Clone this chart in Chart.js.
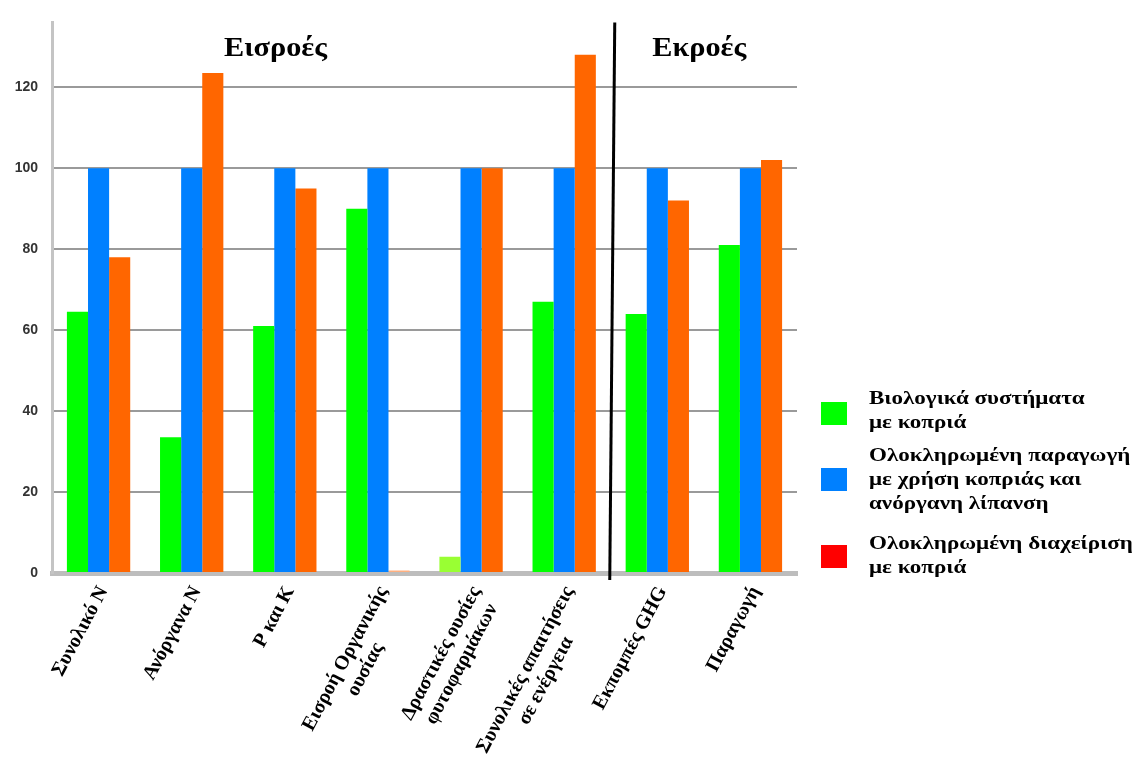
<!DOCTYPE html>
<html>
<head>
<meta charset="utf-8">
<script src="https://cdn.jsdelivr.net/npm/chart.js@4/dist/chart.umd.min.js"></script>
<style>
  html, body { margin: 0; padding: 0; background: #fff; }
  #wrap { position: relative; width: 1139px; height: 758px; }
</style>
</head>
<body>
<div id="wrap"><canvas id="c" width="1139" height="758"></canvas></div>
<script>
// Categories (inputs first, then outputs)
const categories = [
  ['Συνολικό N'],
  ['Ανόργανα N'],
  ['P και K'],
  ['Εισροή Οργανικής', 'ουσίας'],
  ['Δραστικές ουσίες', 'φυτοφαρμάκων'],
  ['Συνολικές απαιτήσεις', 'σε ενέργεια'],
  ['Εκπομπές GHG'],
  ['Παραγωγή']
];

// Series values (index, integrated production = 100)
const biological = [64.5, 33.5, 61, 90, 4, 67, 64, 81];
const integratedProduction = [100, 100, 100, 100, 100, 100, 100, 100];
const integratedManagement = [78, 123.5, 95, 0.6, 100, 128, 92, 102];

// Legend texts, one array of lines per series
const legendBiological = ['Βιολογικά συστήματα', 'με κοπριά'];
const legendProduction = ['Ολοκληρωμένη παραγωγή', 'με χρήση κοπριάς και', 'ανόργανη λίπανση'];
const legendManagement = ['Ολοκληρωμένη διαχείριση', 'με κοπριά'];

// Y axis tick values
const yTicks = [0, 20, 40, 60, 80, 100, 120];

// Section headings
const sectionInputs = 'Εισροές';
const sectionOutputs = 'Εκροές';

const GREEN = '#00ff00';
const BLUE = '#0080ff';
const ORANGE = '#ff6600';
const RED = '#ff0000';
const SERIF = '"Liberation Serif", "DejaVu Serif", serif';

const greenColors = biological.map((v, i) => i === 4 ? '#99ff33' : GREEN);
const orangeColors = integratedManagement.map(v => v < 2 ? '#ffb080' : ORANGE);

// Rotated category labels: first line ends at the tick, later lines centred on it
const categoryLabels = {
  id: 'categoryLabels',
  afterDraw(chart) {
    const { ctx, chartArea, scales: { x } } = chart;
    const angle = 62 * Math.PI / 180;
    ctx.save();
    ctx.fillStyle = '#000';
    ctx.font = 'bold 20px ' + SERIF;
    ctx.textBaseline = 'middle';
    categories.forEach((lines, i) => {
      const ax = x.getPixelForValue(i) + 5;
      const ay = chartArea.bottom + 15;
      const w0 = ctx.measureText(lines[0]).width;
      ctx.save();
      ctx.translate(ax, ay);
      ctx.rotate(-angle);
      ctx.textAlign = 'right';
      ctx.fillText(lines[0], 0, 0);
      ctx.textAlign = 'center';
      for (let k = 1; k < lines.length; k++) {
        ctx.fillText(lines[k], -w0 / 2, k * 23);
      }
      ctx.restore();
    });
    ctx.restore();
  }
};

// Headings, divider between inputs and outputs, and the legend
const decorations = {
  id: 'decorations',
  afterDatasetsDraw(chart) {
    const { ctx, chartArea, scales: { x, y } } = chart;
    ctx.save();
    // divider between last input and first output
    const xb = x.getPixelForValue(5.5);
    ctx.strokeStyle = '#000';
    ctx.lineWidth = 3;
    ctx.beginPath();
    ctx.moveTo(xb + 4, chartArea.top);
    ctx.lineTo(xb - 1, chartArea.bottom + 7);
    ctx.stroke();

    // section headings (slightly widened serif)
    ctx.fillStyle = '#000';
    ctx.font = 'bold 27px ' + SERIF;
    ctx.textAlign = 'center';
    ctx.textBaseline = 'middle';
    const head = (txt, xv) => {
      ctx.save();
      ctx.translate(x.getPixelForValue(xv), y.getPixelForValue(129.5));
      ctx.scale(1.12, 1);
      ctx.fillText(txt, 0, 0);
      ctx.restore();
    };
    head(sectionInputs, 1.9);
    head(sectionOutputs, 6.45);

    // legend
    const items = [
      { color: GREEN, lines: legendBiological, box: 402, text: 399 },
      { color: BLUE, lines: legendProduction, box: 468, text: 456 },
      { color: RED, lines: legendManagement, box: 545, text: 544 }
    ];
    ctx.textAlign = 'left';
    ctx.font = 'bold 18px ' + SERIF;
    items.forEach(it => {
      ctx.fillStyle = it.color;
      ctx.fillRect(821, it.box, 26, 23);
      ctx.fillStyle = '#000';
      it.lines.forEach((ln, k) => {
        ctx.save();
        ctx.translate(869, it.text + k * 24);
        ctx.scale(1.28, 1);
        ctx.fillText(ln, 0, 0);
        ctx.restore();
      });
    });
    ctx.restore();
  }
};

new Chart(document.getElementById('c'), {
  type: 'bar',
  data: {
    labels: categories,
    datasets: [
      { label: legendBiological.join(' '), data: biological, backgroundColor: greenColors },
      { label: legendProduction.join(' '), data: integratedProduction, backgroundColor: BLUE },
      { label: legendManagement.join(' '), data: integratedManagement, backgroundColor: orangeColors }
    ]
  },
  options: {
    responsive: false,
    animation: false,
    layout: { padding: { top: 15, right: 342, left: 0, bottom: 0 } },
    plugins: { legend: { display: false }, tooltip: { enabled: false } },
    datasets: { bar: { categoryPercentage: 0.68, barPercentage: 1.0 } },
    scales: {
      x: {
        grid: { display: false, drawTicks: false },
        border: { display: true, color: '#bdbdbd', width: 5 },
        afterFit(s) { s.height = 185; },
        ticks: { display: false }
      },
      y: {
        min: 0,
        max: 136,
        afterBuildTicks(s) { s.ticks = yTicks.map(v => ({ value: v })); },
        afterFit(s) { s.width = 52; },
        grid: { color: '#9a9a9a', lineWidth: 2, drawTicks: false },
        border: { display: true, color: '#c4c4c4', width: 3 },
        ticks: {
          padding: 14,
          color: '#333',
          font: { family: '"Liberation Sans", Arial, sans-serif', size: 14, weight: 'bold' }
        }
      }
    }
  },
  plugins: [decorations, categoryLabels]
});
</script>
</body>
</html>
